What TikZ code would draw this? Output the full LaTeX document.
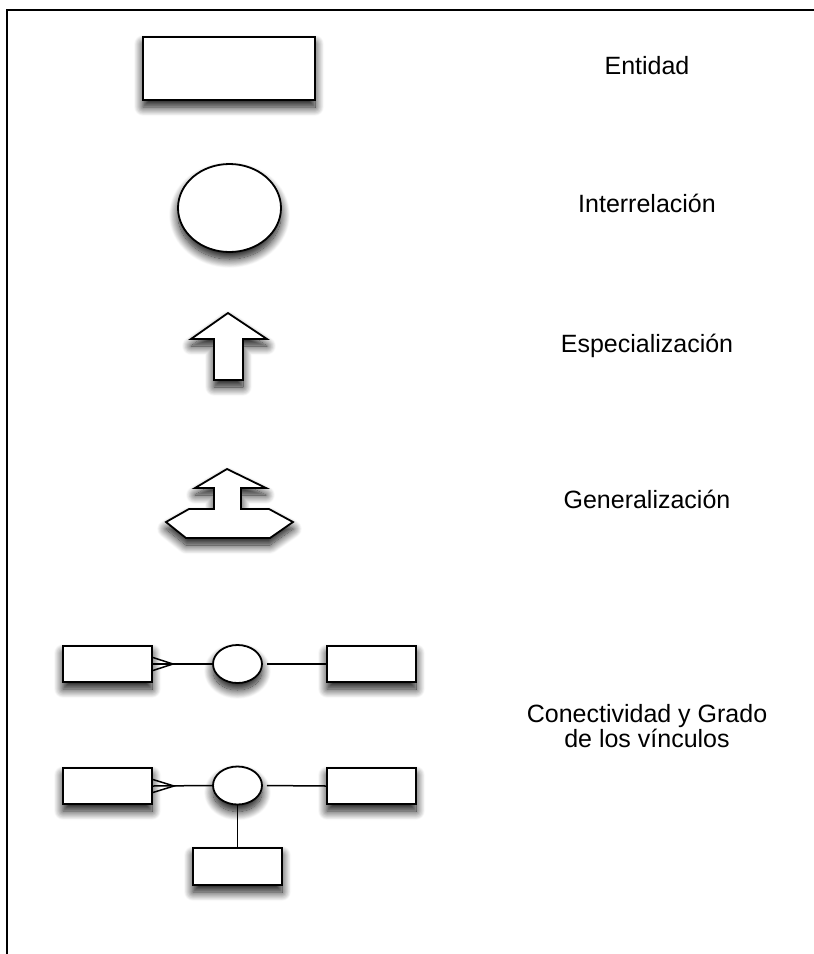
\documentclass[tikz,border=0pt]{standalone}
\usepackage{fontspec}
\setmainfont{Liberation Sans}
\usetikzlibrary{shapes.geometric,shadows.blur,calc}

\begin{document}
\begin{tikzpicture}[x=1pt,y=-1pt,
  shape line/.style={draw=black, line width=1.8pt, fill=white, line join=miter},
  soft shadow/.style={blur shadow={shadow xshift=0pt, shadow yshift=-7pt,
      shadow blur radius=9pt, shadow opacity=95, shadow blur steps=16}},
  entitybox/.style={shape line, soft shadow, rectangle, inner sep=0pt},
  relnode/.style={shape line, soft shadow, ellipse, inner sep=0pt},
  smallent/.style={entitybox, minimum width=89pt, minimum height=36pt},
  smallrel/.style={relnode, minimum width=49pt, minimum height=38pt},
  link/.style={line width=1.5pt},
  caption/.style={anchor=base, font=\fontsize{25}{23.5}\selectfont, align=center}]
\useasboundingbox (0,0) rectangle (814,954);

% page frame
\draw[line width=1.8pt] (7,970) -- (7,10) -- (830,10);

% legend symbols
\node[entitybox, minimum width=172pt, minimum height=63pt] (ent) at (229,68.5) {};
\node[relnode, minimum width=103pt, minimum height=88pt] (rel) at (229.5,208) {};

\path[shape line, soft shadow] (228,313) -- (267,339) -- (243,339) -- (243,380)
  -- (214,380) -- (214,339) -- (191,339) -- cycle;

\path[shape line, soft shadow] (227,469) -- (266,488) -- (241,488) -- (241,509)
  -- (269,509) -- (293,522) -- (270,538) -- (186,538) -- (166,522) -- (189,509)
  -- (214,509) -- (214,488) -- (195,488) -- cycle;

% binary relationship
\node[smallent] (a1) at (107.5,664) {};
\node[smallrel] (c1) at (237.5,664) {};
\node[smallent] (b1) at (371.5,664) {};
\coordinate (f1) at (173,664);
\draw[link] (a1.east) -- (c1.west);
\draw[link] ($(a1.east)+(0,-6.5)$) -- (f1) -- ($(a1.east)+(0,6.5)$);
\draw[link, shorten <=4pt] (c1.east) -- (b1.west);

% ternary relationship
\node[smallent] (a2) at (107.5,786) {};
\node[smallrel] (c2) at (237.5,785.5) {};
\node[smallent] (b2) at (371.5,786) {};
\node[smallent, minimum height=37pt] (d2) at (237.5,866.5) {};
\coordinate (f2) at (174,786);
\draw[link] (a2.east) -- (c2.west);
\draw[link] ($(a2.east)+(0,-6.5)$) -- (f2) -- ($(a2.east)+(0,6.5)$);
\draw[link, shorten <=4pt] (c2.east) -- (b2.west);
\draw[link] (c2.south) -- (d2.north);

% captions
\node[caption] (tEnt) at (647,74) {Entidad};
\node[caption] (tRel) at (647,212) {Interrelación};
\node[caption] (tEsp) at (647,352) {Especialización};
\node[caption] (tGen) at (647,508) {Generalización};
\node[caption] (tCon) at (647,747) {Conectividad y Grado\\de los vínculos};
\end{tikzpicture}
\end{document}
